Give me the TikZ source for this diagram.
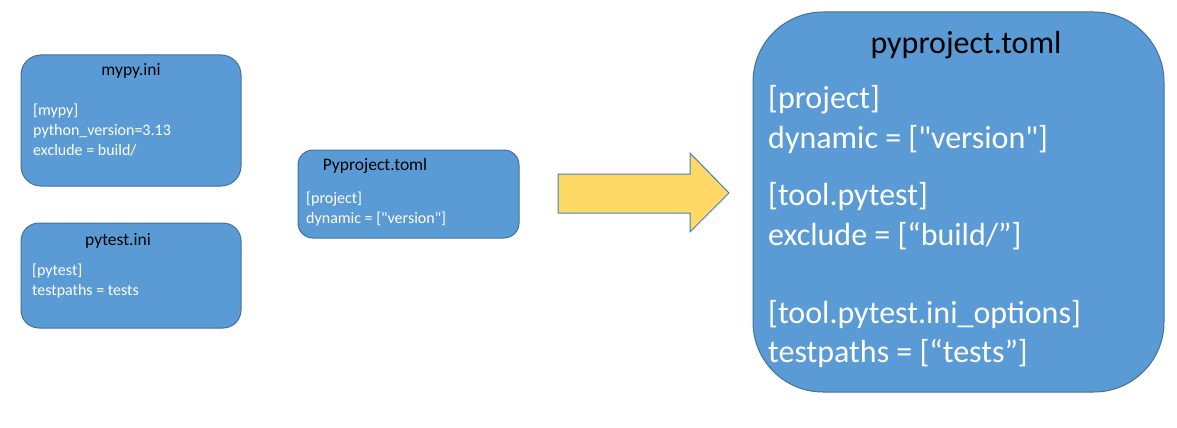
\documentclass[tikz,border=0pt]{standalone}
\usepackage{fontspec}
\setmainfont{Carlito}[Ligatures=TeXOff]
\usepackage{xcolor}
\usepackage{tikz}

\definecolor{boxblue}{HTML}{5B9BD5}
\definecolor{boxline}{HTML}{41719C}
\definecolor{arrowgold}{HTML}{FFD966}
\definecolor{arrowline}{HTML}{4A7EBB}

\tikzset{
	box/.style={draw=boxline, fill=boxblue, line width=1pt, inner sep=0pt},
	smalltitle/.style={anchor=base, text=black, font=\fontsize{17.5}{21}\selectfont, inner sep=0pt},
	smallbody/.style={anchor=base west, text=white, font=\fontsize{16}{20}\selectfont, inner sep=0pt},
	bigtitle/.style={anchor=base, text=black, font=\fontsize{32}{38}\selectfont, inner sep=0pt},
	bigbody/.style={anchor=base west, text=white, font=\fontsize{32}{38}\selectfont, inner sep=0pt},
}

\begin{document}
\begin{tikzpicture}[x=1pt, y=-1pt]
			\useasboundingbox (0,0) rectangle (1177,428);
			\node[box, rounded corners=20pt, minimum width=220pt, minimum height=131pt] at (131,120.5) (mypy) {};
			\node[box, rounded corners=18pt, minimum width=220pt, minimum height=105pt] at (131,275.5) (pytest) {};
			\node[box, rounded corners=15pt, minimum width=221pt, minimum height=88pt] at (408.5,194) (ppsmall) {};
			\node[box, rounded corners=70pt, minimum width=411pt, minimum height=380pt] at (958.5,202) (ppbig) {};
			\node[smalltitle] at (131,75) (mypyt) {mypy.ini};
			\node[smallbody] at (33,115) (mypy1) {[mypy]};
			\node[smallbody] at (33,135) (mypy2) {python\_version=3.13};
			\node[smallbody] at (33,155) (mypy3) {exclude = build/};
			\node[smalltitle] at (118,245) (pytestt) {pytest.ini};
			\node[smallbody] at (32,275) (pytest1) {[pytest]};
			\node[smallbody] at (32,295) (pytest2) {testpaths = tests};
			\node[smalltitle] at (375,170) (ppsmallt) {Pyproject.toml};
			\node[smallbody] at (306,203) (ppsmall1) {[project]};
			\node[smallbody] at (306,223) (ppsmall2) {dynamic = ["version"]};
			\draw[draw=arrowline, fill=arrowgold, line width=1pt] (558,174) -- (690,174) -- (690,153) -- (729,193) -- (690,232) -- (690,213) -- (558,213) -- cycle;
			\node[bigtitle] at (966,53) (ppbigt) {pyproject.toml};
			\node[bigbody] at (768,108) (ppbig1) {[project]};
			\node[bigbody] at (768,148) (ppbig2) {dynamic = ["version"]};
			\node[bigbody] at (768,205) (ppbig3) {[tool.pytest]};
			\node[bigbody] at (768,245) (ppbig4) {exclude = [“build/”]};
			\node[bigbody] at (768,323) (ppbig5) {[tool.pytest.ini\_options]};
			\node[bigbody] at (768,362) (ppbig6) {testpaths = [“tests”]};
		\end{tikzpicture}
\end{document}
